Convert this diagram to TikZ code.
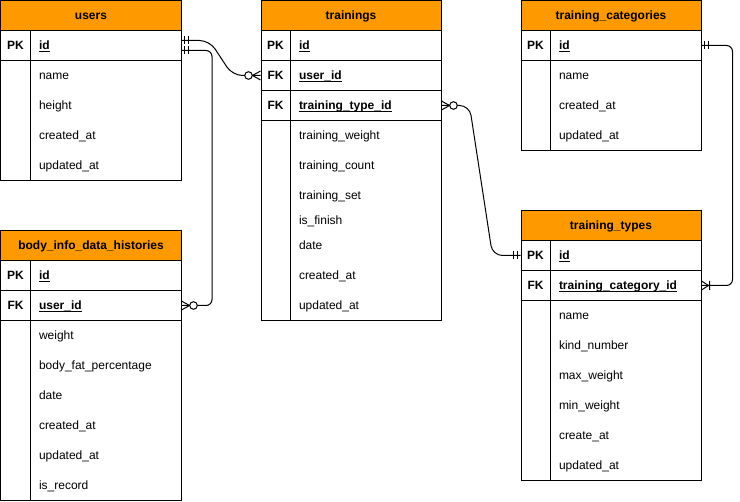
\documentclass[tikz,border=0pt]{standalone}
\usepackage{fontspec}
\setmainfont{Liberation Sans}
\definecolor{hdrorange}{HTML}{FF9900}
\newsavebox{\kbox}
\newcommand{\keyul}[1]{\sbox{\kbox}{#1}\rlap{\rule[-2.3pt]{\wd\kbox}{0.9pt}}\usebox{\kbox}}
\begin{document}
\begin{tikzpicture}[x=1pt,y=-1pt,line width=1pt,
  tbox/.style={draw,line width=1pt,anchor=north west,minimum width=180pt,inner sep=0pt},
  thead/.style={draw,line width=1pt,fill=hdrorange,anchor=north,minimum width=180pt,minimum height=30pt,inner sep=0pt,font=\bfseries\fontsize{12}{14}\selectfont},
  klab/.style={font=\bfseries\fontsize{12}{14}\selectfont,anchor=base,inner sep=0pt},
  kfld/.style={font=\bfseries\fontsize{12}{14}\selectfont,anchor=base west,inner sep=0pt},
  fld/.style={font=\fontsize{12}{14}\selectfont,anchor=base west,inner sep=0pt},
  rel/.style={draw,line width=1pt},
  mone/.pic={\draw[line width=1pt] (3,-4) -- (3,4) (7,-4) -- (7,4);},
  zmany/.pic={\draw[line width=1pt] (0,-4.5) -- (8,0) -- (0,4.5); \draw[line width=1pt,fill=white] (12,0) circle (3.8);},
  omany/.pic={\draw[line width=1pt] (0,-4.5) -- (7,0) -- (0,4.5) (8,-4.5) -- (8,4.5);}
]
\useasboundingbox (-0.5,-0.5) rectangle (739.5,501.5);

% ---------- users ----------
\node[tbox,minimum height=180pt] (users) at (0,0) {};
\node[thead] (users-h) at (users.north) {users};
\draw (0,60) -- (180,60) (30,30) -- (30,180);
\node[klab] (users-pk) at (15,49.5) {PK};
\node[kfld] (users-id) at (38,49.5) {\keyul{id}};
\node[fld] (users-f1) at (38,79.5) {name};
\node[fld] (users-f2) at (38,109.5) {height};
\node[fld] (users-f3) at (38,139.5) {created\_at};
\node[fld] (users-f4) at (38,169.5) {updated\_at};

% ---------- body_info_data_histories ----------
\node[tbox,minimum height=270pt] (body) at (0,230) {};
\node[thead] (body-h) at (body.north) {body\_info\_data\_histories};
\draw (0,290) -- (180,290) (0,320) -- (180,320) (30,260) -- (30,500);
\node[klab] (body-pk) at (15,279.5) {PK};
\node[kfld] (body-id) at (38,279.5) {\keyul{id}};
\node[klab] (body-fk) at (15,309.5) {FK};
\node[kfld] (body-uid) at (38,309.5) {\keyul{user\_id}};
\node[fld] (body-f1) at (38,339.5) {weight};
\node[fld] (body-f2) at (38,369.5) {body\_fat\_percentage};
\node[fld] (body-f3) at (38,399.5) {date};
\node[fld] (body-f4) at (38,429.5) {created\_at};
\node[fld] (body-f5) at (38,459.5) {updated\_at};
\node[fld] (body-f6) at (38,489.5) {is\_record};

% ---------- trainings ----------
\node[tbox,minimum height=320pt] (trn) at (260,0) {};
\node[thead] (trn-h) at (trn.north) {trainings};
\draw (260,60) -- (440,60) (260,90) -- (440,90) (260,120) -- (440,120) (290,30) -- (290,320);
\node[klab] (trn-pk) at (275,49.5) {PK};
\node[kfld] (trn-id) at (298,49.5) {\keyul{id}};
\node[klab] (trn-fk1) at (275,79.5) {FK};
\node[kfld] (trn-uid) at (298,79.5) {\keyul{user\_id}};
\node[klab] (trn-fk2) at (275,109.5) {FK};
\node[kfld] (trn-tid) at (298,109.5) {\keyul{training\_type\_id}};
\node[fld] (trn-f1) at (298,139.5) {training\_weight};
\node[fld] (trn-f2) at (298,169.5) {training\_count};
\node[fld] (trn-f3) at (298,199.5) {training\_set};
\node[fld] (trn-f4) at (298,224.5) {is\_finish};
\node[fld] (trn-f5) at (298,249.5) {date};
\node[fld] (trn-f6) at (298,279.5) {created\_at};
\node[fld] (trn-f7) at (298,309.5) {updated\_at};

% ---------- training_categories ----------
\node[tbox,minimum height=150pt] (cats) at (520,0) {};
\node[thead] (cats-h) at (cats.north) {training\_categories};
\draw (520,60) -- (700,60) (550,30) -- (550,150);
\node[klab] (cats-pk) at (535,49.5) {PK};
\node[kfld] (cats-id) at (558,49.5) {\keyul{id}};
\node[fld] (cats-f1) at (558,79.5) {name};
\node[fld] (cats-f2) at (558,109.5) {created\_at};
\node[fld] (cats-f3) at (558,139.5) {updated\_at};

% ---------- training_types ----------
\node[tbox,minimum height=270pt] (types) at (520,210) {};
\node[thead] (types-h) at (types.north) {training\_types};
\draw (520,270) -- (700,270) (520,300) -- (700,300) (550,240) -- (550,480);
\node[klab] (types-pk) at (535,259.5) {PK};
\node[kfld] (types-id) at (558,259.5) {\keyul{id}};
\node[klab] (types-fk) at (535,289.5) {FK};
\node[kfld] (types-cid) at (558,289.5) {\keyul{training\_category\_id}};
\node[fld] (types-f1) at (558,319.5) {name};
\node[fld] (types-f2) at (558,349.5) {kind\_number};
\node[fld] (types-f3) at (558,379.5) {max\_weight};
\node[fld] (types-f4) at (558,409.5) {min\_weight};
\node[fld] (types-f5) at (558,439.5) {create\_at};
\node[fld] (types-f6) at (558,469.5) {updated\_at};

% ---------- relations ----------
% users -> trainings
\draw[rel,rounded corners=10pt] ([yshift=-40pt]users.north east) -- ++(28,0) -- ([xshift=-28pt,yshift=-75pt]trn.north west) -- ([yshift=-75pt]trn.north west);
% users -> body_info_data_histories
\draw[rel,rounded corners=6pt] ([yshift=-50pt]users.north east) -- ++(30.5,0) |- ([yshift=-75pt]body.north east);
% trainings -> training_types
\draw[rel,rounded corners=10pt] ([yshift=-105pt]trn.north east) -- ++(28,0) -- ([xshift=-28pt,yshift=-45pt]types.north west) -- ([yshift=-45pt]types.north west);
% training_categories -> training_types
\draw[rel,rounded corners=6pt] ([yshift=-45pt]cats.north east) -- ++(31,0) |- ([yshift=-75pt]types.north east);

% end marks
\path ([yshift=-40pt]users.north east) pic {mone};
\path ([yshift=-50pt]users.north east) pic {mone};
\path ([yshift=-75pt]trn.north west) pic[rotate=180] {zmany};
\path ([yshift=-75pt]body.north east) pic {zmany};
\path ([yshift=-105pt]trn.north east) pic {zmany};
\path ([yshift=-45pt]types.north west) pic[rotate=180] {mone};
\path ([yshift=-45pt]cats.north east) pic {mone};
\path ([yshift=-75pt]types.north east) pic {omany};
\end{tikzpicture}
\end{document}
